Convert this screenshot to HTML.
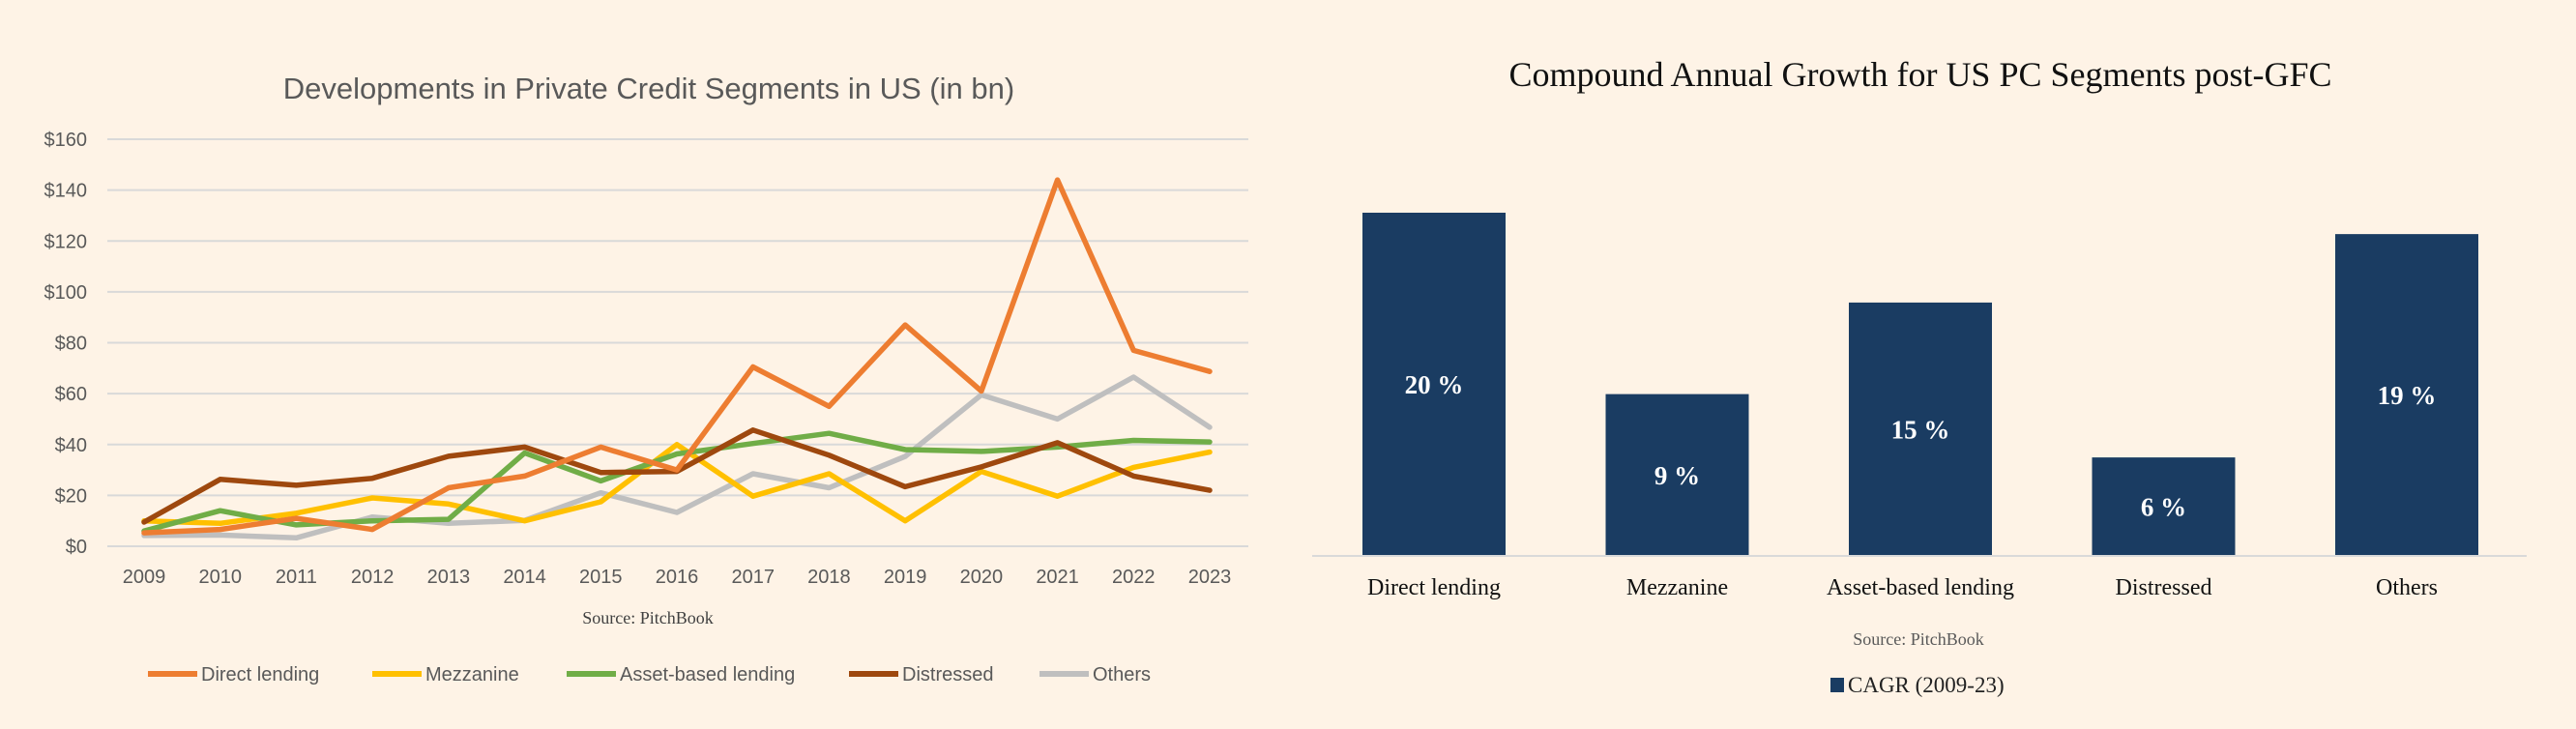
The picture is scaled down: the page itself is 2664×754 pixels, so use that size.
<!DOCTYPE html>
<html><head><meta charset="utf-8">
<style>
html,body{margin:0;padding:0;background:#FEF3E6;}
svg{display:block;}
</style></head>
<body>
<svg id="c" width="2664" height="754" xmlns="http://www.w3.org/2000/svg">
<rect width="2664" height="754" fill="#FEF3E6"/>
<text x="671" y="102" text-anchor="middle" font-family="Liberation Sans, sans-serif" font-size="31" fill="#595959">Developments in Private Credit Segments in US (in bn)</text>
<g id="lc"></g>
<text x="670" y="645" text-anchor="middle" font-family="Liberation Serif, serif" font-size="18" fill="#404040">Source: PitchBook</text>
<g id="lg"></g>
<text x="1986" y="89" text-anchor="middle" font-family="Liberation Serif, serif" font-size="36" fill="#111">Compound Annual Growth for US PC Segments post-GFC</text>
<g id="bc"></g>
<text x="1984" y="667" text-anchor="middle" font-family="Liberation Serif, serif" font-size="18" fill="#595959">Source: PitchBook</text>
<rect x="1893" y="701" width="14" height="15" fill="#1A3C62"/>
<text x="1911" y="716" font-family="Liberation Serif, serif" font-size="23" fill="#222">CAGR (2009-23)</text>
</svg>
<script>
const years=["2009","2010","2011","2012","2013","2014","2015","2016","2017","2018","2019","2020","2021","2022","2023"];
const yTicks=[0,20,40,60,80,100,120,140,160];
const directLending=[5.3,6.6,11,6.6,23,27.6,39,30,70.5,55,87,61,144,77,68.7];
const mezzanine=[10,9,13,19,16.6,10,17.5,40,19.7,28.5,10,29.4,19.7,31,37];
const assetBased=[6,14,8.4,10,10.6,36.7,25.7,36.3,40.4,44.4,38,37.3,39,41.6,41];
const distressed=[9.5,26.3,24,26.7,35.4,39,29,29.4,45.7,35.8,23.4,31.2,40.7,27.6,22];
const others=[4.2,4.4,3.3,11.5,9,10.2,21,13.3,28.5,23,35.3,59.5,50,66.5,46.8];
const seriesNames=["Direct lending","Mezzanine","Asset-based lending","Distressed","Others"];
const barCats=["Direct lending","Mezzanine","Asset-based lending","Distressed","Others"];
const barValues=[20.0,9.4,14.75,5.7,18.75];
const barLabels=["20 %","9 %","15 %","6 %","19 %"];

const NS="http://www.w3.org/2000/svg";
function mk(tag,attrs,parent,text){const e=document.createElementNS(NS,tag);for(const k in attrs)e.setAttribute(k,attrs[k]);if(text!==undefined)e.textContent=text;parent.appendChild(e);return e;}
const lc=document.getElementById('lc');
const x=i=>149+i*(1251-149)/(years.length-1);
const y=v=>565-v*(565-144)/160;
yTicks.forEach(t=>{
  const g=mk('line',{x1:111,x2:1291,y1:y(t),y2:y(t),stroke:'#D9D9D9','stroke-width':2},lc);
  
  
  const l=mk('text',{x:90,y:y(t)+7,'text-anchor':'end','font-family':'Liberation Sans, sans-serif','font-size':20,fill:'#595959'},lc,'$'+t);
  
  
});
years.forEach((yr,i)=>{
  const l=mk('text',{x:x(i),y:603,'text-anchor':'middle','font-family':'Liberation Sans, sans-serif','font-size':20,fill:'#595959'},lc,yr);
  
  
});
const seriesData=[directLending,mezzanine,assetBased,distressed,others];
const colors=["#ED7D31","#FFC000","#70AD47","#9E480E","#BFBFBF"];
const drawOrder=[4,1,2,3,0];
drawOrder.forEach(s=>{
  const pts=seriesData[s].map((v,i)=>x(i).toFixed(1)+','+y(v).toFixed(1)).join(' ');
  const p=mk('polyline',{points:pts,fill:'none',stroke:colors[s],'stroke-width':5.5,'stroke-linejoin':'round','stroke-linecap':'round'},lc);
  
  
});
const lg=document.getElementById('lg');
const legX=[153,385,586,878,1075];
seriesNames.forEach((n,s)=>{
  const l=mk('line',{x1:legX[s],x2:legX[s]+51,y1:697,y2:697,stroke:colors[s],'stroke-width':6},lg);
  
  
  const t=mk('text',{x:legX[s]+55,y:704,'font-family':'Liberation Sans, sans-serif','font-size':20,fill:'#595959'},lg,n);
  
  
});
const bc=document.getElementById('bc');
const base=574, pxPer=354/20;
const bx=i=>1483+i*251.5;
barValues.forEach((v,i)=>{
  const h=v*pxPer;
  const r=mk('rect',{x:bx(i)-74,y:base-h,width:148,height:h,fill:'#1A3C62'},bc);
  
  
  const t=mk('text',{x:bx(i),y:base-h/2+10,'text-anchor':'middle','font-family':'Liberation Serif, serif','font-size':27,'font-weight':'bold',fill:'#fff'},bc,barLabels[i]);
  
  
  const c=mk('text',{x:bx(i),y:615,'text-anchor':'middle','font-family':'Liberation Serif, serif','font-size':24,fill:'#111'},bc,barCats[i]);
  
  
});
const ax=mk('line',{x1:1357,x2:2613,y1:base+1,y2:base+1,stroke:'#D9D9D9','stroke-width':2},bc);


</script>
</body></html>
